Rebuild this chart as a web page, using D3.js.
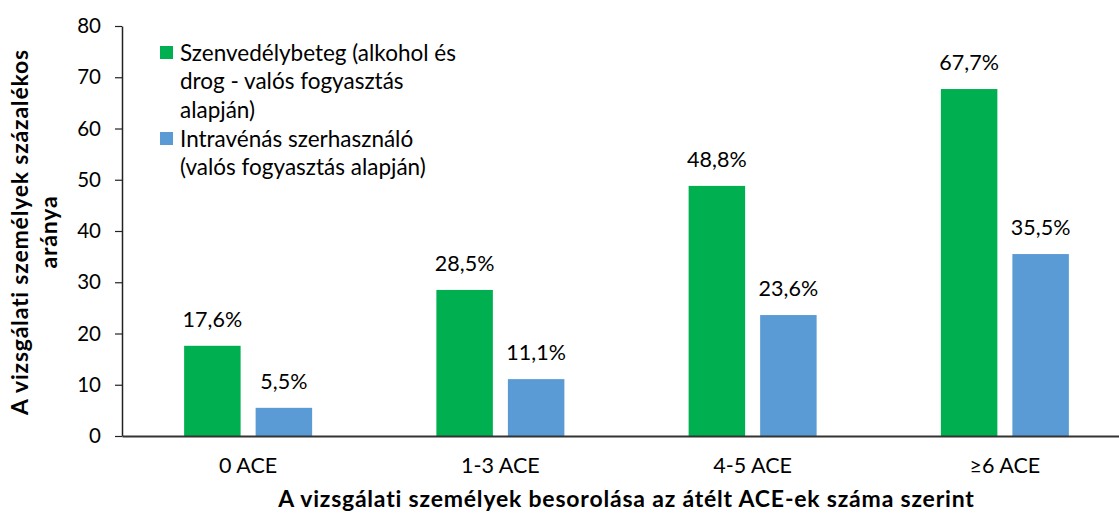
<!DOCTYPE html>
<html>
<head>
<meta charset="utf-8">
<script src="https://cdn.jsdelivr.net/npm/d3@7"></script>
<style>
  body { margin: 0; background: #fff; }
  svg text { font-family: Lato, "Open Sans", sans-serif; fill: #000; }
</style>
</head>
<body>
<script>
// data
var categories = ['0 ACE', '1-3 ACE', '4-5 ACE', '≥6 ACE'];
var seriesNames = ['Szenvedélybeteg (alkohol és drog - valós fogyasztás alapján)',
                   'Intravénás szerhasználó (valós fogyasztás alapján)'];
var addictValues = [17.6, 28.5, 48.8, 67.7];
var ivValues = [5.5, 11.1, 23.6, 35.5];
var yTicks = [0, 10, 20, 30, 40, 50, 60, 70, 80];
var legendLines = [
  ['Szenvedélybeteg (alkohol és', 'drog - valós fogyasztás', 'alapján)'],
  ['Intravénás szerhasználó', '(valós fogyasztás alapján)']
];
var colors = ['#00B050', '#5B9BD5'];

var w = 1119, h = 517;
var svg = d3.select('body').append('svg')
    .attr('width', w)
    .attr('height', h);

// plot box (note: "top" is taken by window.top)
var pLeft = 122, pRight = 1131, pTop = 26, pBottom = 436;

var x0 = d3.scaleBand().domain(categories).range([pLeft, pRight]);
var x1 = d3.scaleBand().domain([0, 1]).range([-64, 64]).paddingInner(0.21);
var y = d3.scaleLinear().domain([0, 80]).range([pBottom, pTop]);

var fmt = d3.formatLocale({decimal: ',', thousands: ' ', grouping: [3], currency: ['', '']}).format('.1f');

var rows = categories.map(function(c, i) {
  return {cat: c, vals: [addictValues[i], ivValues[i]]};
});

// bars
var groups = svg.selectAll('g.grp')
    .data(rows)
    .enter()
    .append('g')
    .attr('class', 'grp')
    .attr('transform', function(d) { return 'translate(' + (x0(d.cat) + x0.bandwidth() / 2) + ',0)'; });

groups.selectAll('rect')
    .data(function(d) { return d.vals; })
    .enter()
    .append('rect')
    .attr('x', function(d, i) { return x1(i); })
    .attr('y', function(d) { return y(d); })
    .attr('width', x1.bandwidth())
    .attr('height', function(d) { return pBottom - y(d); })
    .attr('fill', function(d, i) { return colors[i]; });

groups.selectAll('text')
    .data(function(d) { return d.vals; })
    .enter()
    .append('text')
    .text(function(d) { return fmt(d) + '%'; })
    .attr('x', function(d, i) { return x1(i) + x1.bandwidth() / 2; })
    .attr('y', function(d) { return y(d) - 19; })
    .attr('text-anchor', 'middle')
    .attr('font-size', '21.5px');

// y axis
var yAxis = svg.append('g')
    .attr('transform', 'translate(' + pLeft + ',0)')
    .call(d3.axisLeft(y).tickValues(yTicks).tickSize(7).tickPadding(14).tickSizeOuter(0));
yAxis.select('.domain').attr('stroke', '#222').attr('stroke-width', 1.5);
yAxis.selectAll('.tick line').attr('stroke', '#222').attr('stroke-width', 1.2);
yAxis.selectAll('.tick text').attr('font-size', '20.5px').attr('font-family', 'Lato, sans-serif').attr('fill', '#000');

// x axis
var xAxis = svg.append('g')
    .attr('transform', 'translate(0,' + pBottom + ')')
    .call(d3.axisBottom(x0).tickSize(0).tickPadding(22).tickSizeOuter(0));
xAxis.select('.domain').attr('stroke', '#333').attr('stroke-width', 2);
xAxis.selectAll('.tick text').attr('font-size', '21.5px').attr('font-family', 'Lato, sans-serif').attr('fill', '#000');

// axis titles
svg.append('text')
    .attr('x', (pLeft + pRight) / 2)
    .attr('y', 507)
    .attr('text-anchor', 'middle')
    .attr('font-size', '23px')
    .attr('letter-spacing', '0.8px')
    .attr('font-weight', 'bold')
    .text('A vizsgálati személyek besorolása az átélt ACE-ek száma szerint');

var yTitle = svg.append('text')
    .attr('transform', 'translate(0,232) rotate(-90)')
    .attr('text-anchor', 'middle')
    .attr('font-size', '23px')
    .attr('letter-spacing', '0.8px')
    .attr('font-weight', 'bold');
yTitle.append('tspan').attr('x', 0).attr('y', 28).text('A vizsgálati személyek százalékos');
yTitle.append('tspan').attr('x', 0).attr('y', 57).text('aránya');

// legend
var legendTop = [46, 132];
var legend = svg.selectAll('g.leg')
    .data(legendLines)
    .enter()
    .append('g')
    .attr('class', 'leg')
    .attr('transform', function(d, i) { return 'translate(160,' + legendTop[i] + ')'; });

legend.append('rect')
    .attr('width', 13)
    .attr('height', 13)
    .attr('fill', function(d, i) { return colors[i]; });

legend.selectAll('text')
    .data(function(d) { return d; })
    .enter()
    .append('text')
    .attr('x', 20)
    .attr('y', function(d, i) { return 14.5 + i * 28.5; })
    .attr('font-size', '22.5px')
    .text(function(d) { return d; });
</script>
</body>
</html>
